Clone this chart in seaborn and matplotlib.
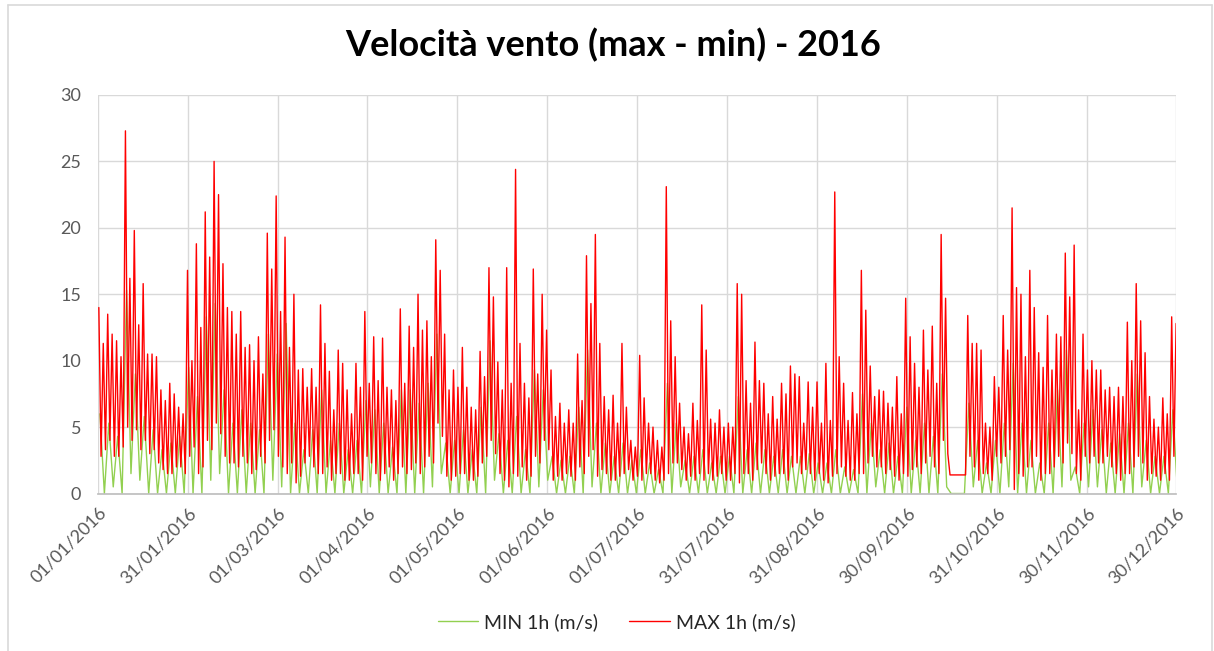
import numpy as np
import pandas as pd
import seaborn as sns
import matplotlib.pyplot as plt
from matplotlib.lines import Line2D

# valori letti dal grafico per finestre di 3 giorni
# MAX: picco, minimo, secondo picco, secondo minimo
max_alto = [14.0, 13.5, 11.5, 27.3, 19.8, 15.8, 10.5, 7.8, 8.3, 6.5,
            16.8, 18.8, 21.2, 25.0, 17.3, 13.7, 13.7, 11.2, 11.8, 19.6,
            22.4, 19.3, 15.0, 9.4, 9.4, 14.2, 9.2, 10.8, 7.8, 9.8,
            13.7, 11.8, 11.7, 7.8, 13.9, 12.6, 15.0, 13.0, 19.1, 12.0,
            9.3, 11.0, 6.5, 10.7, 17.0, 9.9, 17.0, 24.4, 8.3, 16.9,
            15.0, 9.3, 6.8, 6.3, 10.5, 17.9, 19.5, 7.3, 7.4, 11.3,
            4.0, 10.4, 5.3, 4.0, 23.1, 10.3, 5.0, 6.8, 14.2, 5.6,
            6.3, 5.3, 15.8, 8.5, 11.4, 8.3, 7.3, 8.3, 9.6, 8.8,
            8.4, 8.4, 9.8, 22.7, 8.3, 7.6, 16.8, 9.6, 7.8, 6.8,
            8.8, 14.7, 9.8, 12.3, 12.6, 19.5, 1.4, 1.4, 13.4, 11.3,
            5.3, 8.8, 13.4, 21.5, 15.0, 16.8, 10.6, 13.4, 12.0, 18.1,
            18.7, 12.0, 10.0, 9.3, 8.0, 8.0, 12.9, 15.8, 10.6, 5.6,
            7.2, 13.3]
max_basso = [2.8, 4.0, 2.8, 5.0, 4.8, 4.0, 3.3, 1.8, 1.5, 2.0,
             2.8, 1.5, 4.0, 5.3, 2.8, 2.3, 2.8, 1.5, 2.8, 4.0,
             2.8, 1.5, 0.8, 2.3, 2.0, 1.5, 1.0, 1.5, 1.0, 1.5,
             2.8, 1.5, 1.5, 1.0, 2.0, 1.8, 1.5, 2.8, 5.3, 1.3,
             1.3, 1.5, 1.0, 2.3, 4.0, 1.5, 0.5, 1.3, 1.0, 2.8,
             4.0, 1.0, 1.0, 1.3, 2.0, 2.8, 1.3, 1.5, 1.0, 1.5,
             1.0, 1.0, 1.5, 0.8, 1.5, 2.3, 1.0, 1.0, 1.0, 1.0,
             1.5, 1.0, 0.8, 1.5, 1.8, 1.5, 1.3, 1.5, 2.0, 1.5,
             1.5, 1.5, 0.8, 1.5, 1.3, 1.0, 1.5, 2.8, 2.0, 1.8,
             1.0, 1.3, 2.0, 2.3, 2.0, 4.0, 1.4, 1.4, 2.8, 1.0,
             1.5, 2.8, 2.8, 0.3, 1.3, 2.0, 1.0, 1.5, 2.8, 3.8,
             1.5, 2.8, 2.8, 2.3, 2.0, 1.0, 1.5, 2.8, 1.0, 1.3,
             1.5, 2.8]
max_secondo = [11.3, 12.0, 10.3, 16.2, 12.7, 10.5, 10.3, 7.0, 7.5, 6.0,
               10.0, 12.5, 17.8, 22.5, 14.0, 12.0, 11.0, 10.0, 9.0, 16.9,
               13.7, 11.0, 9.3, 8.0, 8.0, 11.3, 6.3, 9.8, 6.0, 8.0,
               8.3, 8.5, 8.0, 7.0, 8.3, 11.0, 12.3, 10.3, 16.8, 7.8,
               8.0, 8.0, 6.3, 8.8, 14.8, 7.8, 8.3, 11.3, 7.2, 9.0,
               12.3, 5.8, 5.3, 5.3, 7.0, 14.3, 11.3, 6.3, 5.3, 6.5,
               3.5, 7.2, 5.0, 3.5, 13.0, 6.8, 4.5, 5.5, 10.8, 5.3,
               5.0, 5.0, 15.0, 6.8, 8.5, 6.0, 5.6, 7.5, 9.0, 5.3,
               6.5, 5.3, 5.5, 10.3, 5.5, 6.0, 13.8, 7.3, 7.7, 6.5,
               6.0, 11.8, 8.0, 9.3, 8.3, 14.7, 1.4, 1.4, 11.3, 10.8,
               5.0, 8.0, 10.8, 15.5, 10.3, 14.0, 9.5, 9.3, 11.8, 14.8,
               6.3, 9.3, 9.3, 7.8, 7.3, 7.3, 10.0, 13.0, 7.3, 5.0,
               6.0, 12.8]
max_basso2 = [3.3, 2.8, 3.5, 4.0, 3.3, 3.0, 2.3, 1.5, 2.0, 1.5,
              3.5, 2.0, 3.3, 4.5, 2.3, 2.0, 2.3, 1.8, 2.3, 4.8,
              2.0, 2.3, 1.3, 2.8, 1.5, 2.0, 1.5, 1.0, 1.5, 1.0,
              2.3, 1.0, 2.0, 1.5, 1.5, 2.3, 2.0, 2.3, 4.3, 1.0,
              1.5, 1.0, 1.3, 2.8, 3.0, 1.0, 1.5, 2.0, 1.3, 2.3,
              3.3, 1.3, 1.5, 1.0, 1.5, 3.3, 1.8, 1.0, 1.3, 1.8,
              1.3, 1.5, 1.0, 1.0, 2.3, 1.8, 1.3, 1.5, 1.5, 1.3,
              1.0, 1.5, 1.5, 1.0, 2.3, 1.0, 1.5, 1.0, 2.3, 1.8,
              1.0, 1.0, 1.3, 2.0, 1.0, 1.5, 2.3, 2.0, 1.5, 1.3,
              1.5, 1.8, 1.5, 2.8, 1.5, 3.0, 1.4, 1.4, 2.0, 1.5,
              1.0, 2.3, 3.3, 1.5, 2.0, 2.8, 1.5, 2.0, 2.3, 3.0,
              1.0, 2.3, 2.3, 2.8, 1.5, 1.5, 2.0, 2.3, 1.5, 1.0,
              1.0, 2.3]
# MIN: picco e minimo
min_alto = [6.0, 5.3, 4.3, 15.3, 9.0, 5.8, 4.8, 3.3, 3.8, 4.3,
            9.5, 7.3, 13.3, 14.3, 7.8, 5.3, 6.3, 5.3, 4.8, 12.0,
            10.5, 12.8, 5.3, 3.3, 4.8, 7.8, 4.0, 5.3, 3.3, 4.0,
            7.0, 6.3, 5.3, 3.5, 7.8, 7.8, 6.8, 8.3, 12.0, 3.8,
            4.0, 4.8, 3.3, 6.5, 11.5, 4.5, 4.0, 5.8, 3.3, 9.3,
            7.8, 2.8, 2.5, 2.8, 6.5, 10.8, 5.3, 3.8, 2.8, 3.8,
            2.5, 3.3, 2.3, 1.8, 8.3, 5.3, 2.5, 2.8, 3.3, 2.3,
            2.8, 2.8, 7.3, 3.3, 3.8, 3.3, 2.8, 3.3, 2.8, 2.8,
            3.0, 2.3, 2.3, 3.3, 2.0, 1.8, 7.5, 5.3, 3.3, 3.8,
            2.8, 6.5, 4.0, 5.3, 4.3, 9.0, 0.0, 0.0, 6.8, 4.0,
            2.3, 4.0, 5.3, 9.8, 5.3, 4.0, 2.3, 5.3, 7.8, 10.8,
            2.0, 5.3, 6.3, 4.8, 3.8, 4.5, 5.3, 9.0, 4.0, 2.8,
            2.8, 6.3]
min_basso = [0.0, 0.5, 0.0, 1.5, 1.0, 0.0, 0.0, 0.0, 0.0, 0.0,
             0.0, 0.0, 1.0, 1.5, 0.0, 0.0, 0.0, 0.0, 0.0, 1.0,
             0.5, 0.0, 0.0, 0.0, 0.0, 0.0, 0.0, 0.0, 0.0, 0.0,
             0.5, 0.0, 0.0, 0.0, 0.0, 0.0, 0.0, 0.5, 1.5, 0.0,
             0.0, 0.0, 0.0, 0.0, 1.0, 0.0, 0.0, 0.0, 0.0, 0.5,
             1.0, 0.0, 0.0, 0.0, 0.0, 0.5, 0.0, 0.0, 0.0, 0.0,
             0.0, 0.0, 0.0, 0.0, 0.0, 0.5, 0.0, 0.0, 0.0, 0.0,
             0.0, 0.0, 0.0, 0.0, 0.0, 0.0, 0.0, 0.0, 0.0, 0.0,
             0.0, 0.0, 0.0, 0.0, 0.0, 0.0, 0.0, 0.5, 0.0, 0.0,
             0.0, 0.0, 0.0, 0.0, 0.0, 0.5, 0.0, 0.0, 0.5, 0.0,
             0.0, 0.0, 0.5, 0.0, 0.0, 0.0, 0.0, 0.0, 0.5, 1.0,
             0.0, 0.5, 0.5, 0.0, 0.0, 0.0, 0.0, 0.5, 0.0, 0.0,
             0.0, 0.5]

etichette_x = ['01/01/2016', '31/01/2016', '01/03/2016', '01/04/2016',
               '01/05/2016', '01/06/2016', '01/07/2016', '31/07/2016',
               '31/08/2016', '30/09/2016', '31/10/2016', '30/11/2016',
               '30/12/2016']
nomi_serie = ['MIN 1h (m/s)', 'MAX 1h (m/s)']
colori = {'MIN 1h (m/s)': '#92d050', 'MAX 1h (m/s)': '#ff0000'}

PASSO = 3  # giorni per finestra


def zigzag(*colonne):
    n = len(colonne)
    inizio = np.arange(len(colonne[0])) * PASSO
    t = (inizio[:, None] + (np.arange(n) + 0.5) * PASSO / n).ravel()
    v = np.column_stack(colonne).ravel()
    return t, v


frames = []
letture = [(min_alto, min_basso), (max_alto, max_basso, max_secondo, max_basso2)]
for nome, colonne in zip(nomi_serie, letture):
    t, v = zigzag(*colonne)
    frames.append(pd.DataFrame({'giorno': t, 'velocita': v, 'serie': nome}))
df = pd.concat(frames, ignore_index=True)

sns.set_theme(style='white')
plt.rcParams['font.family'] = ['Lato', 'DejaVu Sans']

fig = plt.figure(figsize=(12.14, 6.51), dpi=100)
ax = fig.add_axes([0.0805, 0.2419, 0.8886, 0.6122])

sns.lineplot(data=df, x='giorno', y='velocita', hue='serie', hue_order=nomi_serie,
             palette=colori, estimator=None, sort=False, lw=1, legend=False, ax=ax)

ax.set_xlim(0, 365)
ax.set_ylim(0, 30)
ax.set_yticks(range(0, 31, 5))
ax.set_xticks(np.arange(len(etichette_x)) * 730 / 24)
ax.set_xticklabels(etichette_x, rotation=45, ha='right', rotation_mode='anchor')
ax.set_xlabel('')
ax.set_ylabel('')
ax.tick_params(axis='both', length=0, labelsize=13, labelcolor='#595959')
ax.tick_params(axis='x', pad=8)
ax.tick_params(axis='y', pad=12)
ax.grid(True, color='#d9d9d9', lw=1)
ax.set_axisbelow(True)
for lato in ['left', 'right', 'top']:
    ax.spines[lato].set_visible(False)
ax.spines['bottom'].set_color('#bfbfbf')

fig.text(0.505, 0.931, 'Velocità vento (max - min) - 2016', ha='center', va='center',
         fontsize=26, fontweight='bold', color='black')

maniglie = [Line2D([], [], color=colori[n], lw=1) for n in nomi_serie]
fig.legend(maniglie, nomi_serie, loc='center', bbox_to_anchor=(0.508, 0.045), ncol=2,
           frameon=False, fontsize=14, handlelength=2.1, handletextpad=0.3,
           columnspacing=1.6, labelcolor='#262626')

# cornice del grafico
for xs, ys in [([0.0066, 0.0066], [0.0, 0.993]), ([0.0066, 0.998], [0.993, 0.993]),
               ([0.998, 0.998], [0.0, 0.993])]:
    fig.add_artist(Line2D(xs, ys, color='#d9d9d9', lw=1.2))

fig.savefig('out.png', dpi=100)
